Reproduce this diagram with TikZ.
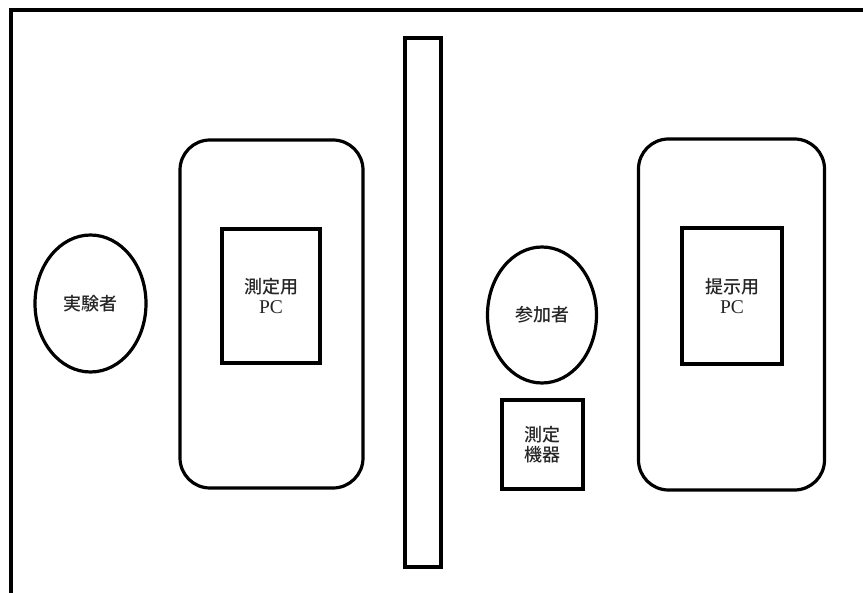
\documentclass[tikz,border=0pt]{standalone}
\usepackage{fontspec}
\setmainfont{Liberation Serif}
\newfontfamily\cjk{Noto Sans CJK JP Medium}
\usetikzlibrary{shapes.geometric}
\begin{document}
\begin{tikzpicture}[x=1pt,y=-1pt,
  line width=3.2pt,
  lbl/.style={text=black!85, font=\fontsize{18}{20}\selectfont, align=center, inner sep=0pt},
  zone/.style={draw, rounded corners=30pt, minimum width=#1, inner sep=0pt},
  box/.style={draw, inner sep=0pt},
  person/.style={draw, ellipse, inner sep=0pt}]
\useasboundingbox (0,0) rectangle (863,593);
\clip (0,0) rectangle (863,593);
% outer frame (right and bottom edges fall outside the picture)
\draw (11,10) rectangle (900,640);
% partition
\node[box, minimum width=36pt, minimum height=529pt] (wall) at (423,302.5) {};
% left side
\node[zone=183pt, minimum height=348pt] (lzone) at (271.5,314) {};
\node[box, minimum width=98pt, minimum height=134pt, lbl] (mpc) at (271,296) {{\cjk 測定用}\\{\fontsize{19.5}{20}\selectfont PC}};
\node[person, minimum width=111pt, minimum height=137pt, lbl] (exp) at (90.5,303.5) {\cjk 実験者};
% right side
\node[zone=186pt, minimum height=351pt] (rzone) at (731.5,314.5) {};
\node[box, minimum width=100pt, minimum height=136pt, lbl] (ppc) at (732,296) {{\cjk 提示用}\\{\fontsize{19.5}{20}\selectfont PC}};
\node[person, minimum width=109pt, minimum height=136pt, lbl] (par) at (542,315) {\cjk 参加者};
\node[box, minimum width=81pt, minimum height=89pt, lbl] (dev) at (542.5,444.5) {\cjk 測定\\\cjk 機器};
\end{tikzpicture}
\end{document}
